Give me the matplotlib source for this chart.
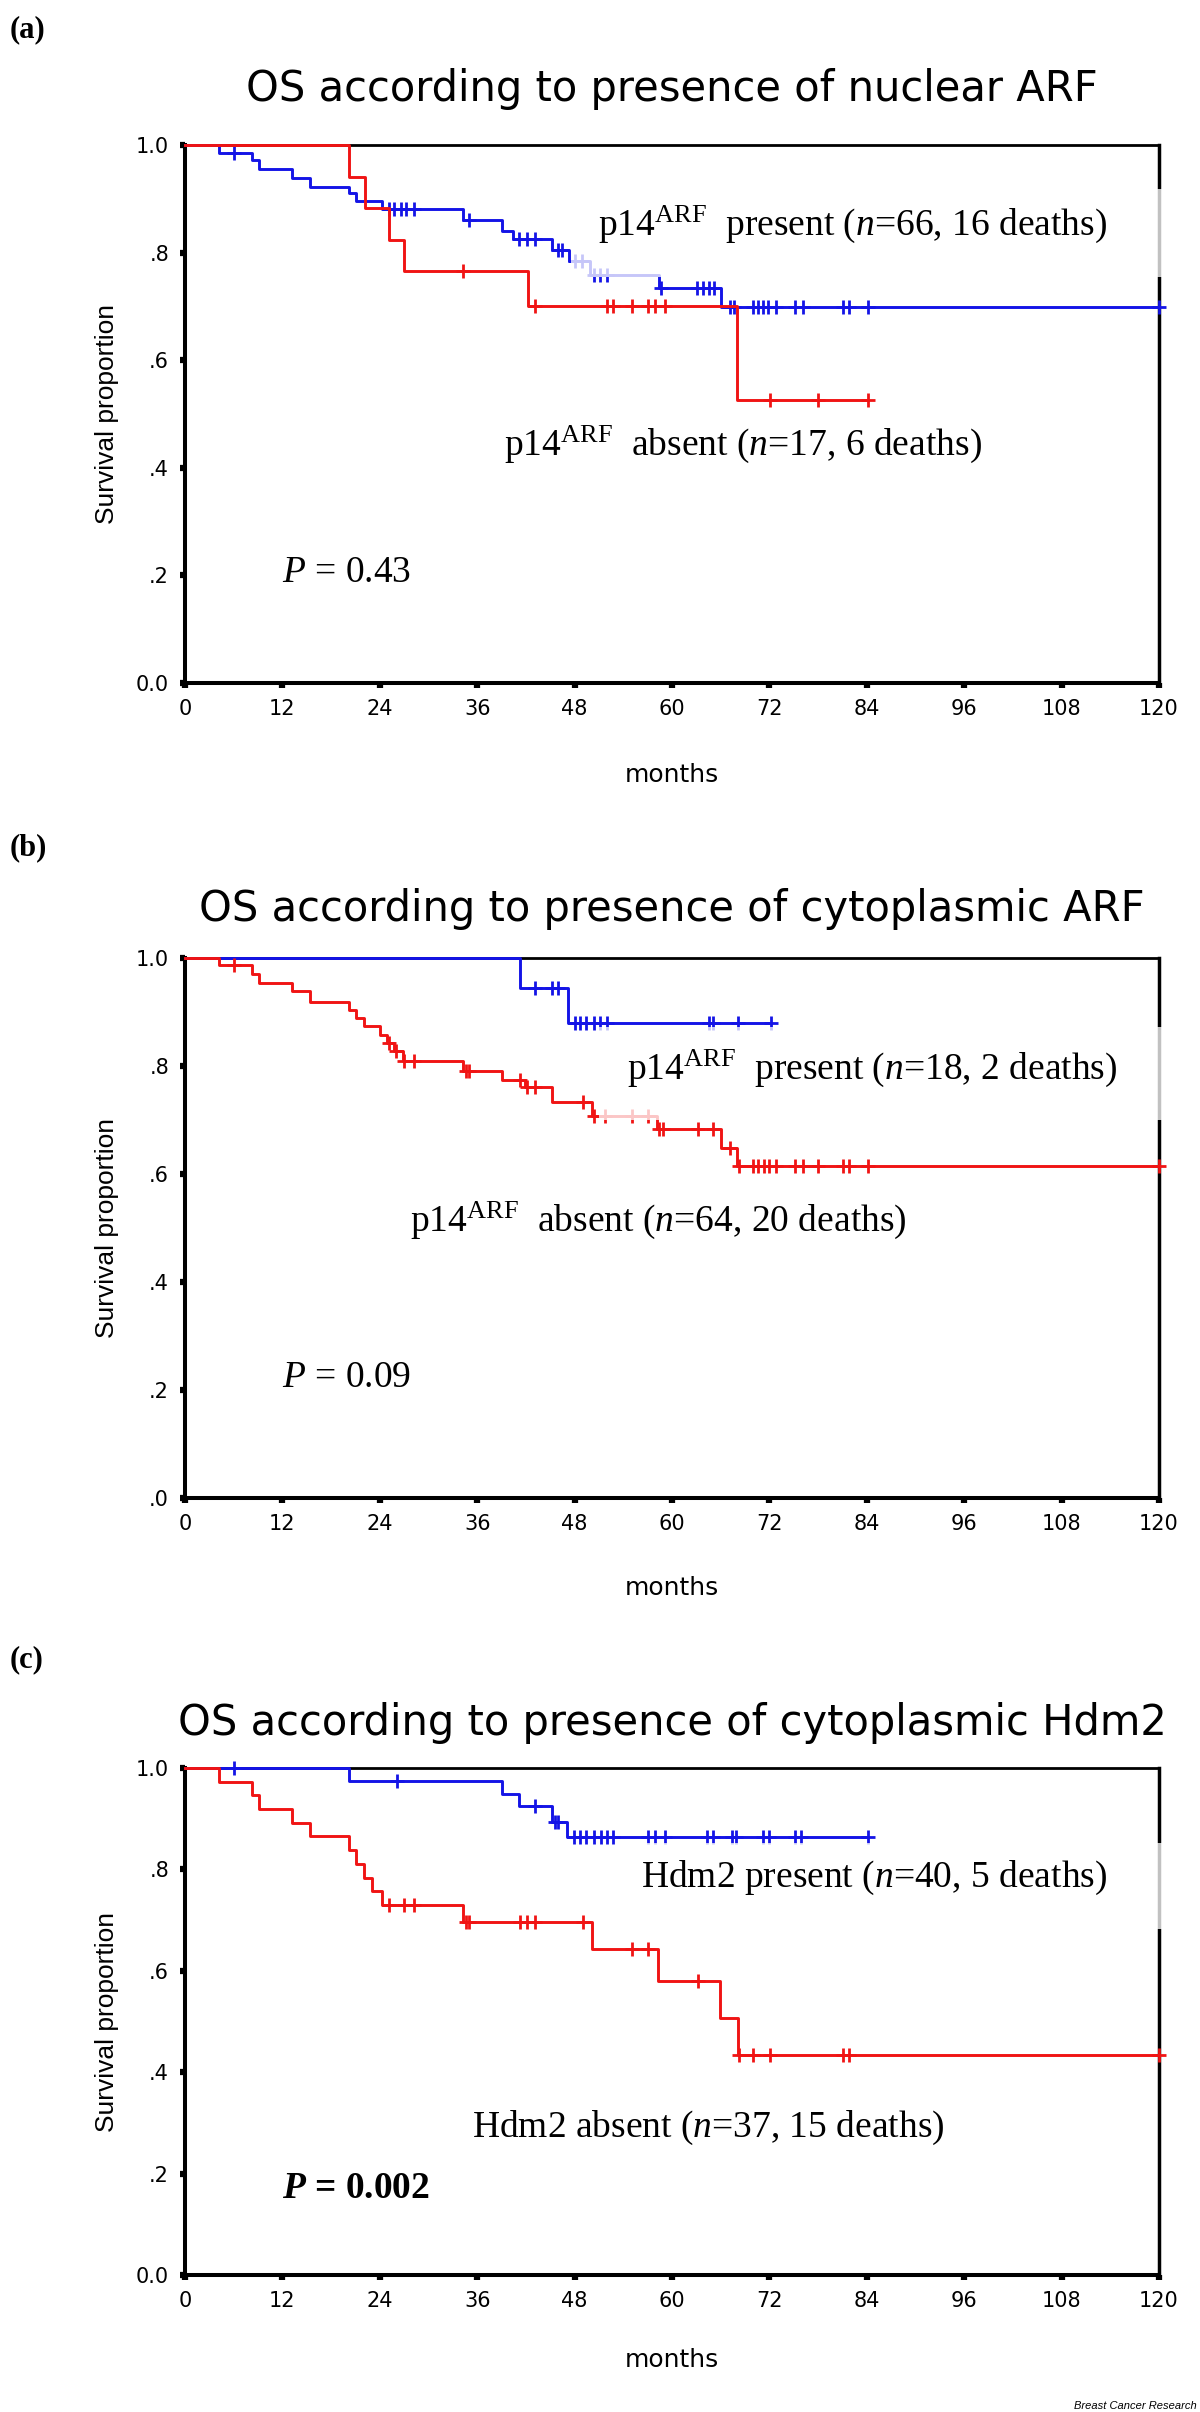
import numpy as np
import matplotlib.pyplot as plt
from matplotlib.patches import Rectangle

plt.rcParams['mathtext.fontset'] = 'custom'
plt.rcParams['mathtext.rm'] = 'Liberation Serif'
plt.rcParams['mathtext.it'] = 'Liberation Serif:italic'
plt.rcParams['mathtext.bf'] = 'Liberation Serif:bold'
plt.rcParams['mathtext.bfit'] = 'Liberation Serif:italic:bold'

# (a) nuclear ARF
a_pres_t = [0, 4.15, 8.3, 9.1, 13.2, 15.4, 20.2, 21.1, 24.3, 34.2, 39.1, 40.4, 45.2, 47.3, 49.9, 58.4, 66.0]
a_pres_s = [1.0, 0.986, 0.972, 0.956, 0.938, 0.922, 0.910, 0.895, 0.881, 0.860, 0.841, 0.826, 0.804, 0.784, 0.758, 0.735, 0.698]
a_pres_c = [6.0, 25.1, 25.8, 26.6, 27.2, 28.2, 35.0, 41.2, 42.1, 43.1, 45.9, 46.5, 48.0, 48.9, 50.4, 51.1, 52.0,
            58.6, 63.1, 63.8, 64.5, 65.2, 67.1, 67.7, 70.0, 70.6, 71.2, 71.8, 72.8, 75.2, 76.1, 81.1, 81.8, 84.1, 120]
a_abs_t = [0, 20.2, 22.2, 25.1, 27.0, 42.3, 68.0]
a_abs_s = [1.0, 0.941, 0.882, 0.824, 0.765, 0.701, 0.526]
a_abs_c = [34.2, 43.1, 52.0, 52.7, 55.1, 57.0, 57.9, 59.1, 72.1, 78.0, 84.1]

# (b) cytoplasmic ARF
b_pres_t = [0, 41.3, 47.2]
b_pres_s = [1.0, 0.945, 0.880]
b_pres_c = [43.1, 45.2, 45.9, 48.0, 48.7, 49.4, 50.4, 51.1, 52.0, 64.6, 65.0, 68.1, 72.2]
b_abs_t = [0, 4.15, 8.3, 9.1, 13.2, 15.4, 20.2, 21.1, 22.1, 24.0, 24.9, 25.8, 26.8, 34.2, 39.1, 41.9,
           45.2, 50.1, 58.2, 66.0, 68.0]
b_abs_s = [1.0, 0.987, 0.970, 0.953, 0.938, 0.918, 0.904, 0.889, 0.874, 0.858, 0.843, 0.827, 0.810, 0.791,
           0.775, 0.761, 0.733, 0.707, 0.683, 0.649, 0.614]
b_abs_c = [6.0, 25.1, 26.0, 27.0, 28.2, 34.6, 35.0, 41.3, 42.1, 43.1, 49.0, 50.4, 51.8, 55.1, 57.0, 58.4,
           58.9, 63.2, 65.0, 67.1, 68.2, 70.0, 70.6, 71.3, 71.9, 72.8, 75.2, 76.1, 78.0, 81.1, 81.8, 84.1, 120]

# (c) cytoplasmic Hdm2
c_pres_t = [0, 20.2, 39.1, 41.2, 45.2, 47.1]
c_pres_s = [1.0, 0.975, 0.949, 0.925, 0.894, 0.864]
c_pres_c = [6.0, 26.1, 43.1, 45.6, 46.0, 47.9, 48.7, 49.4, 50.4, 51.2, 52.0, 52.7, 57.0, 57.9, 59.1,
            64.3, 65.0, 67.4, 67.9, 71.2, 71.9, 75.2, 75.9, 84.1]
c_abs_t = [0, 4.15, 8.3, 9.1, 13.2, 15.4, 20.2, 21.1, 22.1, 23.1, 24.3, 34.2, 50.1, 58.3, 65.9, 68.1]
c_abs_s = [1.0, 0.973, 0.946, 0.919, 0.892, 0.865, 0.838, 0.811, 0.784, 0.757, 0.730, 0.697, 0.643,
           0.580, 0.506, 0.434]
c_abs_c = [25.1, 27.0, 28.2, 34.6, 35.0, 41.3, 42.1, 43.1, 49.0, 55.1, 57.0, 63.2, 68.3, 70.0, 72.1,
           81.1, 81.8, 120]

x_ticks = list(range(0, 121, 12))
y_ticks = [0, 0.2, 0.4, 0.6, 0.8, 1.0]

titles = ['OS according to presence of nuclear ARF',
          'OS according to presence of cytoplasmic ARF',
          'OS according to presence of cytoplasmic Hdm2']
panel_tags = ['(a)', '(b)', '(c)']

BLUE = '#1414e6'
RED = '#f01414'

W, H = 1200, 2412
fig = plt.figure(figsize=(W / 100, H / 100), dpi=100)


def rect(l, t, r, b):
    return [l / W, 1 - b / H, (r - l) / W, (b - t) / H]


def km(ax, t, s, cens, color):
    end = cens[-1] if cens[-1] > t[-1] else t[-1]
    tt = np.array(list(t) + [end])
    ss = np.array(list(s) + [s[-1]])
    ax.step(tt, ss, where='post', color=color, lw=2.1, zorder=3, clip_on=False)
    idx = np.searchsorted(tt, cens, side='right') - 1
    ax.plot(cens, ss[idx], ls='none', marker='+', ms=10.5, mew=2.0, color=color,
            zorder=3, clip_on=False)


def frame(ax, ylabels):
    ax.set_xlim(0, 120)
    ax.set_ylim(0, 1)
    ax.set_xticks(x_ticks)
    ax.set_xticklabels([str(v) for v in x_ticks])
    ax.set_yticks(y_ticks)
    ax.set_yticklabels(ylabels)
    ax.tick_params(axis='both', direction='out', length=3.5, width=4.5, color='black',
                   labelsize=15, pad=8)
    for lab in ax.get_xticklabels() + ax.get_yticklabels():
        lab.set_fontfamily('DejaVu Sans')
    for side, lw in [('left', 2.9), ('bottom', 2.9), ('top', 2.0), ('right', 2.5)]:
        ax.spines[side].set_linewidth(lw)
        ax.spines[side].set_color('black')
    ax.set_ylabel('Survival proportion', fontfamily=['Liberation Sans Narrow', 'Liberation Sans'],
                  fontsize=19, labelpad=12)


serif = 'Liberation Serif'
txt_size = 27

# panel geometry in pixels: left, top, right, bottom
geoms = [(185, 145, 1159, 683), (185, 958, 1159, 1498), (185, 1768, 1159, 2275)]
title_y = [89, 909, 1723]
tag_y = [30, 848, 1660]
months_y = [775, 1588, 2360]

curves = [
    [(a_pres_t, a_pres_s, a_pres_c, BLUE), (a_abs_t, a_abs_s, a_abs_c, RED)],
    [(b_pres_t, b_pres_s, b_pres_c, BLUE), (b_abs_t, b_abs_s, b_abs_c, RED)],
    [(c_pres_t, c_pres_s, c_pres_c, BLUE), (c_abs_t, c_abs_s, c_abs_c, RED)],
]
ylabel_sets = [['0.0', '.2', '.4', '.6', '.8', '1.0'],
               ['.0', '.2', '.4', '.6', '.8', '1.0'],
               ['0.0', '.2', '.4', '.6', '.8', '1.0']]

# translucent label boxes (x0, y0, x1, y1) in data units, covering the right frame
boxes = [(47.5, 0.755, 120.6, 0.918), (51.0, 0.700, 120.6, 0.873), (56.0, 0.683, 120.6, 0.852)]

labels = [
    [(50.9, 0.833, r'p14$^{\rm ARF}$  present ($n$=66, 16 deaths)'),
     (39.3, 0.424, r'p14$^{\rm ARF}$  absent ($n$=17, 6 deaths)')],
    [(54.5, 0.777, r'p14$^{\rm ARF}$  present ($n$=18, 2 deaths)'),
     (27.7, 0.495, r'p14$^{\rm ARF}$  absent ($n$=64, 20 deaths)')],
    [(56.2, 0.765, r'Hdm2 present ($n$=40, 5 deaths)'),
     (35.3, 0.272, r'Hdm2 absent ($n$=37, 15 deaths)')],
]
pvals = [(12.0, 0.187, r'$P$ = 0.43', 'normal'),
         (12.0, 0.206, r'$P$ = 0.09', 'normal'),
         (12.0, 0.151, r'$\mathbfit{P}$ = 0.002', 'bold')]

for i in range(3):
    ax = fig.add_axes(rect(*geoms[i]))
    for t, s, c, col in curves[i]:
        km(ax, t, s, c, col)
    frame(ax, ylabel_sets[i])
    x0, y0, x1, y1 = boxes[i]
    ax.add_patch(Rectangle((x0, y0), x1 - x0, y1 - y0, facecolor='white', edgecolor='none',
                           alpha=0.76, zorder=4, clip_on=False))
    for x, y, s in labels[i]:
        ax.text(x, y, s, fontfamily=serif, fontsize=txt_size, ha='left', va='baseline', zorder=5)
    px, py, ps, pw = pvals[i]
    ax.text(px, py, ps, fontfamily=serif, fontsize=txt_size, fontweight=pw,
            ha='left', va='baseline', zorder=5)

    fig.text(672 / W, 1 - title_y[i] / H, titles[i], fontfamily='DejaVu Sans', fontsize=30,
             ha='center', va='center')
    fig.text(10 / W, 1 - tag_y[i] / H, panel_tags[i], fontfamily=serif, fontweight='bold',
             fontsize=22, ha='left', va='center')
    fig.text(672 / W, 1 - months_y[i] / H, 'months', fontfamily='DejaVu Sans', fontsize=18,
             ha='center', va='center')

fig.text(1197 / W, 1 - 2406 / H, 'Breast Cancer Research',
         fontfamily=['Liberation Sans Narrow', 'Liberation Sans'], fontstyle='italic',
         fontsize=8, ha='right', va='center')

fig.savefig('out.png', dpi=100)
